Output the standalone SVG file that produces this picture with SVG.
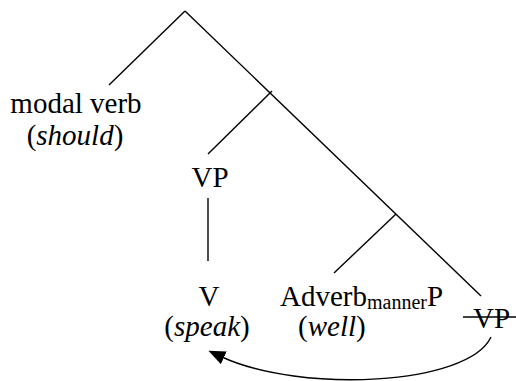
<svg xmlns="http://www.w3.org/2000/svg" width="516" height="381" viewBox="0 0 516 381">
<style>
text{font-family:"Liberation Serif","Times New Roman",Times,serif;font-size:29px;fill:#000}
.c{text-anchor:middle}
.ln{stroke:#000;stroke-width:1.4;fill:none}
</style>
<defs>
<marker id="ah" markerUnits="userSpaceOnUse" markerWidth="20" markerHeight="16" refX="2" refY="7" orient="auto">
<path d="M0,0 L17,7 L0,14 Z" fill="#000"/>
</marker>
</defs>
<rect width="516" height="381" fill="#fff"/>
<g id="connectors">
<line class="ln" x1="185" y1="11" x2="109" y2="85"/>
<line class="ln" x1="185" y1="11" x2="481" y2="296"/>
<line class="ln" x1="272" y1="91" x2="208" y2="154"/>
<line class="ln" x1="396" y1="214" x2="334" y2="273"/>
<line class="ln" x1="208" y1="198" x2="208" y2="261"/>
<path class="ln" d="M491,337 C468,386 300,393 222,357" marker-end="url(#ah)"/>
</g>
<g id="modal"><text class="c" x="76" y="113">modal verb</text><text class="c" x="75" y="145">(<tspan font-style="italic">should</tspan>)</text></g>
<g id="vp"><text class="c" x="210" y="187">VP</text></g>
<g id="v"><text class="c" x="209" y="306">V</text><text class="c" x="207" y="336">(<tspan font-style="italic">speak</tspan>)</text></g>
<g id="advp"><text x="280" y="306">Adverb<tspan font-size="20" dy="3">manner</tspan><tspan dy="-3">P</tspan></text><text x="298" y="336">(<tspan font-style="italic">well</tspan>)</text></g>
<g id="vp2"><text x="473" y="328">VP</text><line class="ln" x1="463" y1="317" x2="516" y2="317"/></g>
</svg>
